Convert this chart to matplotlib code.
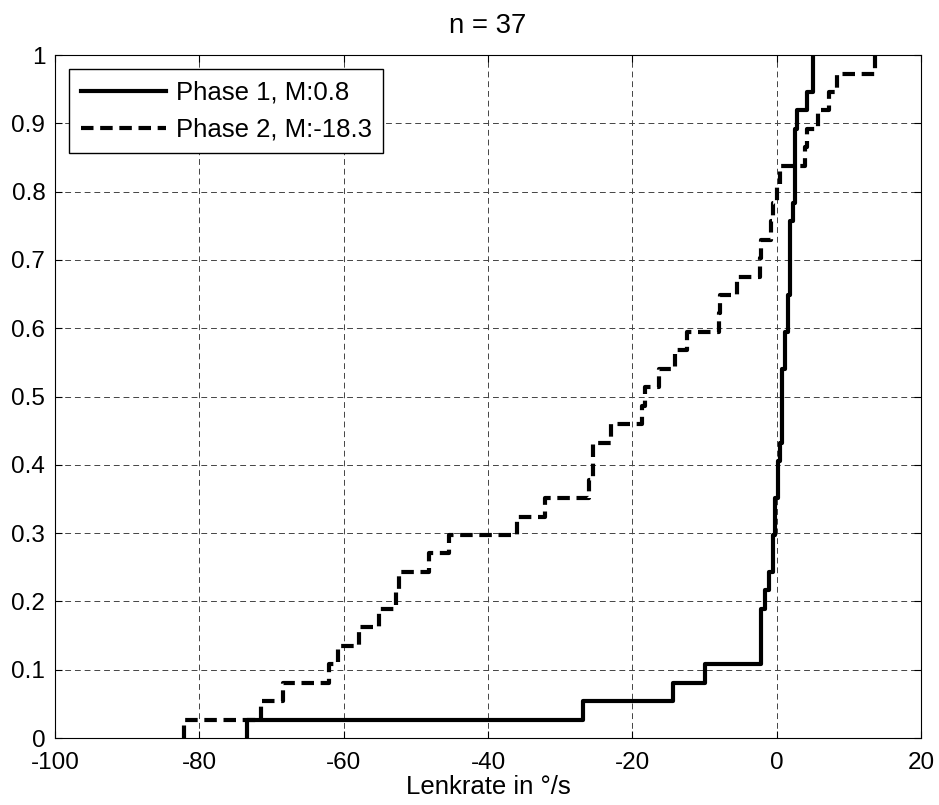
import numpy as np
import matplotlib
matplotlib.use('Agg')
import matplotlib.pyplot as plt
from matplotlib.ticker import FuncFormatter

# Lenkrate-Werte (°/s), n = 37 je Phase
phase1 = [-73.4, -26.9, -14.4, -9.9, -2.2, -2.2, -2.2, -1.6, -1.1, -0.5,
          -0.5, -0.2, -0.2, 0.2, 0.2, 0.5, 0.8, 0.8, 0.8, 0.8,
          1.2, 1.2, 1.6, 1.6, 1.9, 1.9, 1.9, 1.9, 2.2, 2.5,
          2.5, 2.5, 2.5, 2.8, 4.2, 5.0, 5.0]
phase2 = [-82.1, -71.5, -68.4, -62.0, -60.8, -57.9, -55.1, -52.8, -52.3, -48.2,
          -45.4, -36.0, -32.1, -26.0, -25.5, -25.5, -23.0, -18.6, -18.3, -16.3,
          -14.1, -12.4, -8.0, -7.8, -5.5, -2.3, -2.2, -0.8, -0.5, 0.0,
          0.46, 3.9, 4.2, 5.7, 7.2, 8.3, 13.6]

x_ticks = [-100, -80, -60, -40, -20, 0, 20]
y_ticks = [0, 0.1, 0.2, 0.3, 0.4, 0.5, 0.6, 0.7, 0.8, 0.9, 1]

plt.rcParams['font.family'] = ['Liberation Sans', 'DejaVu Sans']
plt.rcParams['font.size'] = 16.5
plt.rcParams['axes.unicode_minus'] = False


def ecdf(werte):
    # Empirische Verteilungsfunktion wie cdfplot in MATLAB
    x = np.sort(np.asarray(werte, dtype=float))
    y = np.arange(1, len(x) + 1) / len(x)
    return np.concatenate([[x[0]], x]), np.concatenate([[0.0], y])


fig = plt.figure(figsize=(9.39, 8.05), dpi=100)
ax = fig.add_axes([0.0586, 0.0832, 0.9223, 0.8484])

x1, y1 = ecdf(phase1)
x2, y2 = ecdf(phase2)
ax.step(x1, y1, where='post', color='k', lw=3,
        label=f'Phase 1, M:{np.median(phase1):.1f}')
ax.step(x2, y2, where='post', color='k', lw=3, linestyle=(0, (3, 1.6)),
        label=f'Phase 2, M:{np.median(phase2):.1f}')

ax.set_xlim(-100, 20)
ax.set_ylim(0, 1)
ax.set_xticks(x_ticks)
ax.set_yticks(y_ticks)
ax.yaxis.set_major_formatter(FuncFormatter(lambda v, p: f'{v:g}'))
ax.tick_params(direction='in', top=True, right=True, length=5, width=0.8,
               labelsize=17.5)
ax.tick_params(axis='x', pad=10)
ax.tick_params(axis='y', pad=7)
ax.grid(True, color='#444444', linestyle=(0, (6, 4)), lw=0.7)
for s in ax.spines.values():
    s.set_linewidth(0.8)

ax.set_title('n = 37', pad=16)
ax.set_xlabel('Lenkrate in °/s', fontsize=18.5, labelpad=1)

leg = ax.legend(loc='upper left', bbox_to_anchor=(0.0, 1.0), borderaxespad=0.55,
                fontsize=18.5, handlelength=3.3, handletextpad=0.4,
                fancybox=False, framealpha=1, edgecolor='k',
                borderpad=0.45, labelspacing=0.5)
leg.get_frame().set_linewidth(1.0)

fig.savefig('out.png', dpi=100)
